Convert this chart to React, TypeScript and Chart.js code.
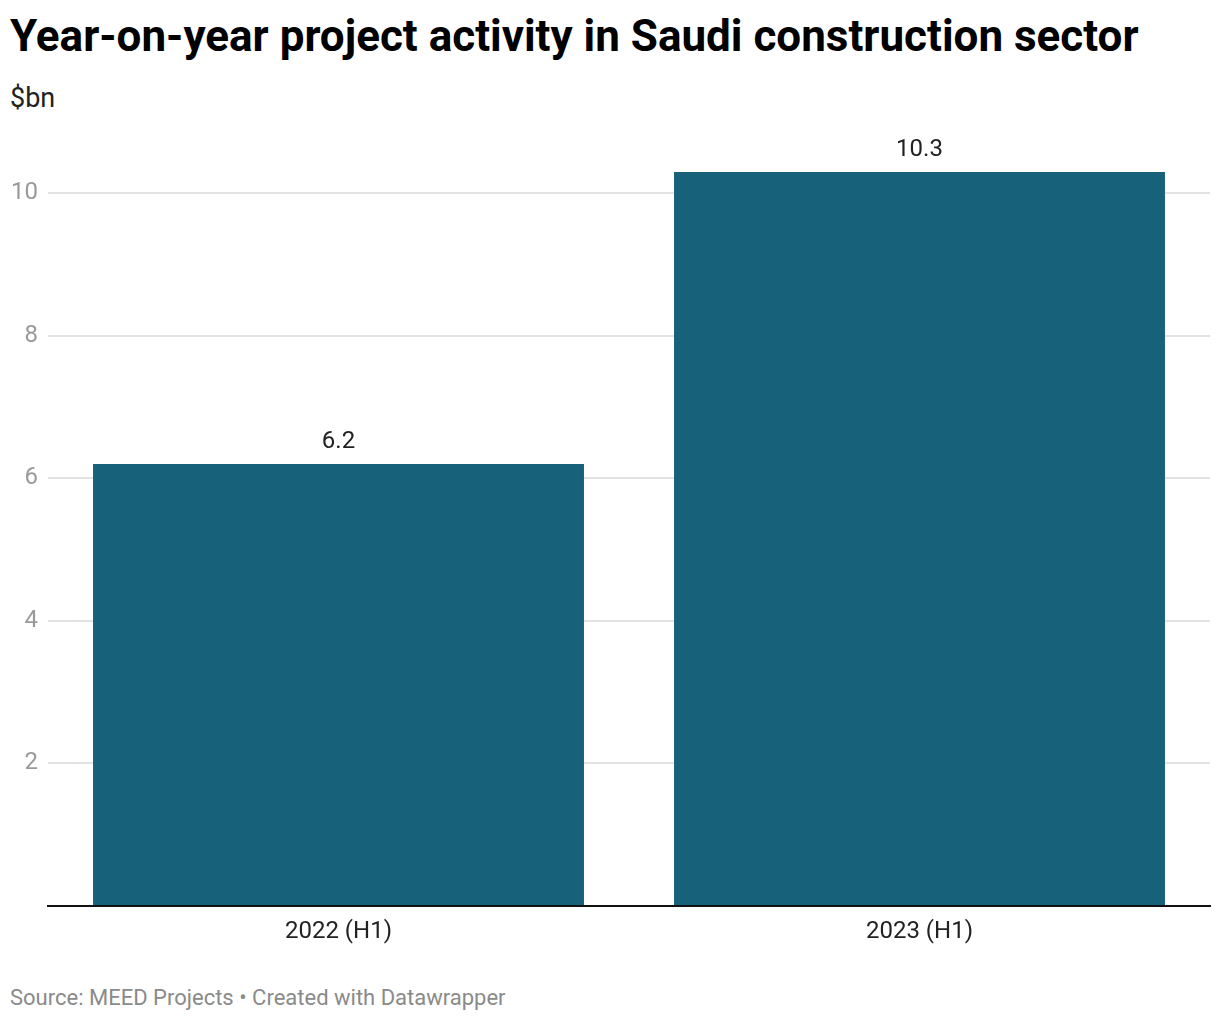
import React, { useEffect, useRef } from "react";
import { Chart, registerables } from "chart.js";

Chart.register(...registerables);

const categories = ["2022 (H1)", "2023 (H1)"];
const values = [6.2, 10.3];
const yTicks = [0, 2, 4, 6, 8, 10];

const BAR_COLOR = "#17617a";
const FONT = "Roboto, 'Noto Sans', sans-serif";

const valueLabelPlugin = {
  id: "valueLabels",
  afterDatasetsDraw(chart: any) {
    const ctx = chart.ctx;
    const meta = chart.getDatasetMeta(0);
    ctx.save();
    ctx.font = `24px ${FONT}`;
    ctx.fillStyle = "#222222";
    ctx.textAlign = "center";
    ctx.textBaseline = "middle";
    meta.data.forEach((bar: any, i: number) => {
      ctx.fillText(String(values[i]), bar.x, bar.y - 22);
    });
    ctx.restore();
  },
};

export default function App() {
  const ref = useRef<HTMLCanvasElement>(null);
  useEffect(() => {
    if (!ref.current) return;
    const chart = new Chart(ref.current, {
      type: "bar",
      data: {
        labels: categories,
        datasets: [
          {
            data: values,
            backgroundColor: BAR_COLOR,
            barPercentage: 0.845,
            categoryPercentage: 1,
          },
        ],
      },
      plugins: [valueLabelPlugin],
      options: {
        animation: false,
        responsive: false,
        devicePixelRatio: 1,
        layout: { padding: { top: 114, bottom: 12, left: 0, right: 2 } },
        plugins: { legend: { display: false }, tooltip: { enabled: false } },
        scales: {
          x: {
            grid: { display: false, drawTicks: false },
            border: { display: true, color: "#111111", width: 2 },
            ticks: {
              color: "#222222",
              font: { family: FONT, size: 24 },
              padding: 12,
            },
            afterFit(scale: any) {
              scale.height = 50;
            },
          },
          y: {
            min: 0,
            max: 11,
            afterBuildTicks(scale: any) {
              scale.ticks = yTicks.map((v) => ({ value: v }));
            },
            afterFit(scale: any) {
              scale.width = 40;
            },
            border: { display: false },
            grid: {
              drawTicks: false,
              color: (c: any) => (c.tick && c.tick.value === 0 ? "rgba(0,0,0,0)" : "#e3e3e3"),
              lineWidth: 2,
            },
            ticks: {
              color: "#9a9a9a",
              font: { family: FONT, size: 24 },
              padding: 10,
              callback: (v: any) => (v === 0 ? "" : String(v)),
            },
          },
        },
      },
    });
    return () => chart.destroy();
  }, []);

  return (
    <div style={{ position: "relative", width: 1204, height: 1004, fontFamily: FONT }}>
      <div
        style={{
          position: "absolute",
          left: 2,
          top: 3,
          fontSize: 44,
          fontWeight: 700,
          lineHeight: "50px",
          color: "#000",
          whiteSpace: "nowrap",
        }}
      >
        Year-on-year project activity in Saudi construction sector
      </div>
      <div
        style={{
          position: "absolute",
          left: 2,
          top: 74,
          fontSize: 27,
          lineHeight: "32px",
          color: "#222",
        }}
      >
        $bn
      </div>
      <canvas
        ref={ref}
        width={1204}
        height={960}
        style={{ position: "absolute", left: 0, top: 0, width: 1204, height: 960 }}
      />
      <div
        style={{
          position: "absolute",
          left: 2,
          top: 976,
          fontSize: 22,
          lineHeight: "28px",
          color: "#8a8a8a",
          whiteSpace: "nowrap",
        }}
      >
        Source: MEED Projects • Created with Datawrapper
      </div>
    </div>
  );
}
